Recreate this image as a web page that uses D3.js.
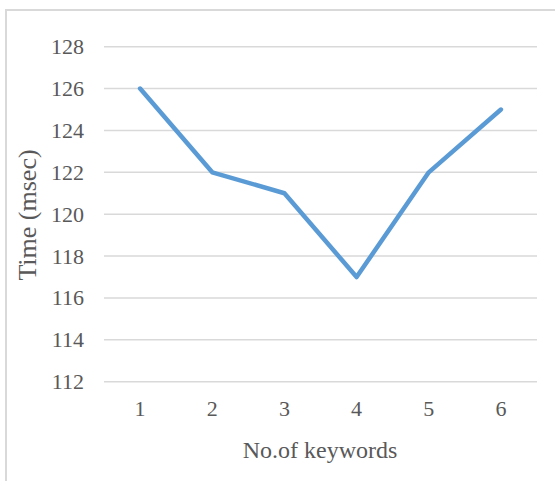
<!DOCTYPE html>
<html><head><meta charset="utf-8">
<script src="https://cdn.jsdelivr.net/npm/d3@7"></script>
<style>html,body{margin:0;padding:0;background:#fff;}svg{display:block;}</style>
</head><body>
<script>
const categories = ["1","2","3","4","5","6"];
const values = [126,122,121,117,122,125];
const yTicks = [112,114,116,118,120,122,124,126,128];
const xTitle = "No.of keywords";
const yTitle = "Time (msec)";

const W = 555, H = 481;
const svg = d3.select("body").append("svg").attr("width", W).attr("height", H);

// chart frame (left and top borders visible)
svg.append("path").attr("d", "M6,481 V10 H555").attr("fill","none")
  .attr("stroke","#d9d9d9").attr("stroke-width",2);

const x = d3.scaleBand().domain(categories).range([104, 537]);
const y = d3.scaleLinear().domain([112,128]).range([381.7, 46.7]);

const grid = svg.append("g");
grid.selectAll("line").data(yTicks).join("line")
  .attr("x1", 104).attr("x2", 537)
  .attr("y1", d => y(d)).attr("y2", d => y(d))
  .attr("stroke","#d9d9d9").attr("stroke-width",1.5);

const font = "'Liberation Serif','Times New Roman',serif";

const yAxis = svg.append("g").attr("transform","translate(84,0)")
  .call(d3.axisLeft(y).tickValues(yTicks).tickSize(0).tickPadding(0));
yAxis.select(".domain").remove();
yAxis.selectAll("text").attr("font-family", font).attr("font-size", 22).attr("fill","#595959");

const xAxis = svg.append("g").attr("transform","translate(0,400)")
  .call(d3.axisBottom(x).tickSize(0).tickPadding(0));
xAxis.select(".domain").remove();
xAxis.selectAll("text").attr("font-family", font).attr("font-size", 22).attr("fill","#595959");

const line = d3.line().x((d,i) => x(categories[i]) + x.bandwidth()/2).y(d => y(d));
svg.append("path").datum(values).attr("d", line)
  .attr("fill","none").attr("stroke","#5b9bd5").attr("stroke-width",4.5)
  .attr("stroke-linejoin","round").attr("stroke-linecap","round");

svg.append("text").attr("x", 320).attr("y", 458).attr("text-anchor","middle")
  .attr("font-family", font).attr("font-size", 24).attr("fill","#595959").text(xTitle);

svg.append("text").attr("transform","translate(36,215) rotate(-90)").attr("text-anchor","middle")
  .attr("font-family", font).attr("font-size", 26).attr("fill","#595959").text(yTitle);
</script>
</body></html>
